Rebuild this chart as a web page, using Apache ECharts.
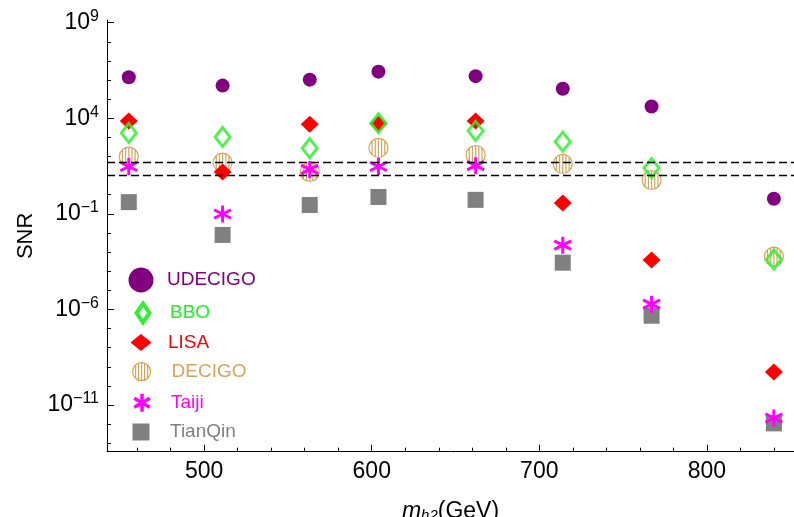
<!DOCTYPE html>
<html>
<head>
<meta charset="utf-8">
<script src="https://cdn.jsdelivr.net/npm/echarts@6/dist/echarts.min.js"></script>
<style>html,body{margin:0;padding:0;background:#fff}#c{width:794px;height:517px}</style>
</head>
<body>
<div id="c"></div>
<script>
// masses (GeV)
const masses = [455, 511, 563, 604, 662, 714, 767, 840];
// SNR values
const udecigo = [1.4e6, 5.1e5, 1.05e6, 2.75e6, 1.6e6, 3.5e5, 4.1e4, 0.62];
const decigo  = [98, 48, 15.5, 280, 120, 41, 5.9, 5.8e-4];
const lisa    = [7.2e3, 15.5, 4.9e3, 5.2e3, 7.2e3, 0.37, 3.9e-4, 5.4e-10];
const bbo     = [1.7e3, 1.05e3, 270, 5.5e3, 2.2e3, 600, 25, 4.1e-4];
const tianqin = [0.41, 7.9e-3, 0.29, 0.76, 0.54, 2.8e-4, 4.7e-7, 1.1e-12];
const taiji   = [30, 0.098, 21, 30, 33, 2.3e-3, 1.9e-6, 2.1e-12];
// threshold lines
const thresholds = [50, 10];
// ticks
const xMajor = [500, 600, 700, 800];
const xMinor = [460, 480, 520, 540, 560, 580, 620, 640, 660, 680, 720, 740, 760, 780, 820, 840];
const yMajor = [1e-11, 1e-6, 1e-1, 1e4, 1e9];
const yMinor = [1e-13,1e-12,1e-10,1e-9,1e-8,1e-7,1e-5,1e-4,1e-3,1e-2,1,10,100,1e3,1e5,1e6,1e7,1e8];

const FONT = 'Liberation Sans';
const pair = (ys) => masses.map((m, i) => [m, ys[i]]);

const hatchPath = 'path://M0,10A10,10,0,1,0,20,10A10,10,0,1,0,0,10Z M3.33,2.55L3.33,17.45 M6.67,0.57L6.67,19.43 M10,0L10,20 M13.33,0.57L13.33,19.43 M16.67,2.55L16.67,17.45';
const starPath = 'path://M10,0L10,20 M1.34,5L18.66,15 M1.34,15L18.66,5';

const C = {
  udecigo: '#800080', bbo: '#33ee33', lisa: '#ff0000', decigo: '#d4a55a', taiji: '#ff00ff', tianqin: '#808080'
};

const ymin = Math.pow(10, -13.44), ymax = Math.pow(10, 9.14);

function legendFor(name, icon, w, h, cy, textX, color, itemStyle) {
  const left = 141 - w / 2;
  return {
    show: true, selectedMode: false, padding: 0, orient: 'vertical',
    left: left, top: cy - h / 2, itemWidth: w, itemHeight: h,
    data: [{ name: name, icon: icon, itemStyle: Object.assign({ opacity: 1 }, itemStyle) }],
    textStyle: { fontFamily: FONT, fontSize: 19, color: color, padding: [0, 0, 0, textX - (left + w + 5)] }
  };
}

const chart = echarts.init(document.getElementById('c'), null, { renderer: 'canvas' });
chart.setOption({
  animation: false,
  backgroundColor: '#fff',
  grid: { left: 107, right: 0, top: 20, bottom: 65.3, containLabel: false, outerBoundsMode: 'none' },
  xAxis: [{
    type: 'value', min: 442, max: 852, position: 'bottom',
    axisLine: { show: true, lineStyle: { color: '#000', width: 1 } },
    axisTick: { show: true, inside: true, length: 7, customValues: xMajor, lineStyle: { color: '#000' } },
    axisLabel: { customValues: xMajor, fontFamily: FONT, fontSize: 23, color: '#000', margin: 8 },
    splitLine: { show: false },
    name: '{i|m}{sub|h2}{n|(GeV)}', nameLocation: 'middle', nameGap: 47,
    nameTextStyle: {
      rich: {
        i: { fontFamily: FONT, fontStyle: 'italic', fontSize: 23, color: '#000' },
        sub: { fontFamily: FONT, fontStyle: 'italic', fontSize: 15, color: '#000', padding: [10, 0, 0, 0] },
        n: { fontFamily: FONT, fontSize: 23, color: '#000' }
      }
    }
  }, {
    type: 'value', min: 442, max: 852, position: 'bottom',
    axisLine: { show: false },
    axisTick: { show: true, inside: true, length: 4, customValues: xMinor, lineStyle: { color: '#000' } },
    axisLabel: { show: false },
    splitLine: { show: false }
  }],
  yAxis: [{
    type: 'log', logBase: 10, min: ymin, max: ymax, position: 'left',
    axisLine: { show: true, lineStyle: { color: '#000', width: 1 } },
    axisTick: { show: true, inside: true, length: 7, customValues: yMajor, lineStyle: { color: '#000' } },
    axisLabel: {
      customValues: yMajor, margin: 8,
      formatter: function (v) {
        const e = Math.round(Math.log10(v));
        return '{b|10}{s|' + (e < 0 ? '\u2212' + (-e) : e) + '}';
      },
      rich: {
        b: { fontFamily: FONT, fontSize: 23, color: '#000' },
        s: { fontFamily: FONT, fontSize: 16, color: '#000', padding: [0, 0, 12, 0] }
      }
    },
    splitLine: { show: false },
    name: 'SNR', nameLocation: 'middle', nameGap: 68,
    nameTextStyle: { fontFamily: FONT, fontSize: 22, color: '#000' }
  }, {
    type: 'log', logBase: 10, min: ymin, max: ymax, position: 'left',
    axisLine: { show: false },
    axisTick: { show: true, inside: true, length: 4, customValues: yMinor, lineStyle: { color: '#000' } },
    axisLabel: { show: false },
    splitLine: { show: false }
  }],
  legend: [
    legendFor('UDECIGO', 'circle', 25, 25, 280, 167, C.udecigo, { color: C.udecigo }),
    legendFor('BBO', 'diamond', 13, 19, 311, 168, '#22ee22', { color: 'rgba(0,0,0,0)', borderColor: C.bbo, borderWidth: 4 }),
    legendFor('LISA', 'diamond', 21, 17, 341.5, 168, C.lisa, { color: C.lisa }),
    legendFor('DECIGO', hatchPath, 18, 18, 371, 171, C.decigo, { color: 'rgba(0,0,0,0)', borderColor: C.decigo, borderWidth: 1.2 }),
    legendFor('Taiji', starPath, 17, 18, 401, 170, C.taiji, { color: 'rgba(0,0,0,0)', borderColor: C.taiji, borderWidth: 3.5 }),
    legendFor('TianQin', 'rect', 17, 17, 431, 170, C.tianqin, { color: C.tianqin })
  ],
  series: [
    {
      name: 'UDECIGO', type: 'scatter', data: pair(udecigo), symbol: 'circle', symbolSize: 14,
      itemStyle: { color: C.udecigo, opacity: 1 },
      markLine: {
        silent: true, symbol: 'none', label: { show: false },
        lineStyle: { color: '#000', type: [8, 4], width: 1.3 },
        data: thresholds.map(t => ({ yAxis: t }))
      }
    },
    {
      name: 'DECIGO', type: 'scatter', data: pair(decigo), symbol: hatchPath, symbolSize: 19,
      itemStyle: { color: 'rgba(0,0,0,0)', borderColor: C.decigo, borderWidth: 1.2, opacity: 1 }
    },
    {
      name: 'LISA', type: 'scatter', data: pair(lisa), symbol: 'diamond', symbolSize: [18, 17],
      itemStyle: { color: C.lisa, opacity: 1 }
    },
    {
      name: 'BBO', type: 'scatter', data: pair(bbo), symbol: 'diamond', symbolSize: [15, 19],
      itemStyle: { color: 'rgba(0,0,0,0)', borderColor: C.bbo, borderWidth: 3, opacity: 0.85 }
    },
    {
      name: 'TianQin', type: 'scatter', data: pair(tianqin), symbol: 'rect', symbolSize: 16,
      itemStyle: { color: C.tianqin, opacity: 1 }
    },
    {
      name: 'Taiji', type: 'scatter', data: pair(taiji), symbol: starPath, symbolSize: 17,
      itemStyle: { color: 'rgba(0,0,0,0)', borderColor: C.taiji, borderWidth: 3, opacity: 1 }
    }
  ]
});
</script>
</body>
</html>
